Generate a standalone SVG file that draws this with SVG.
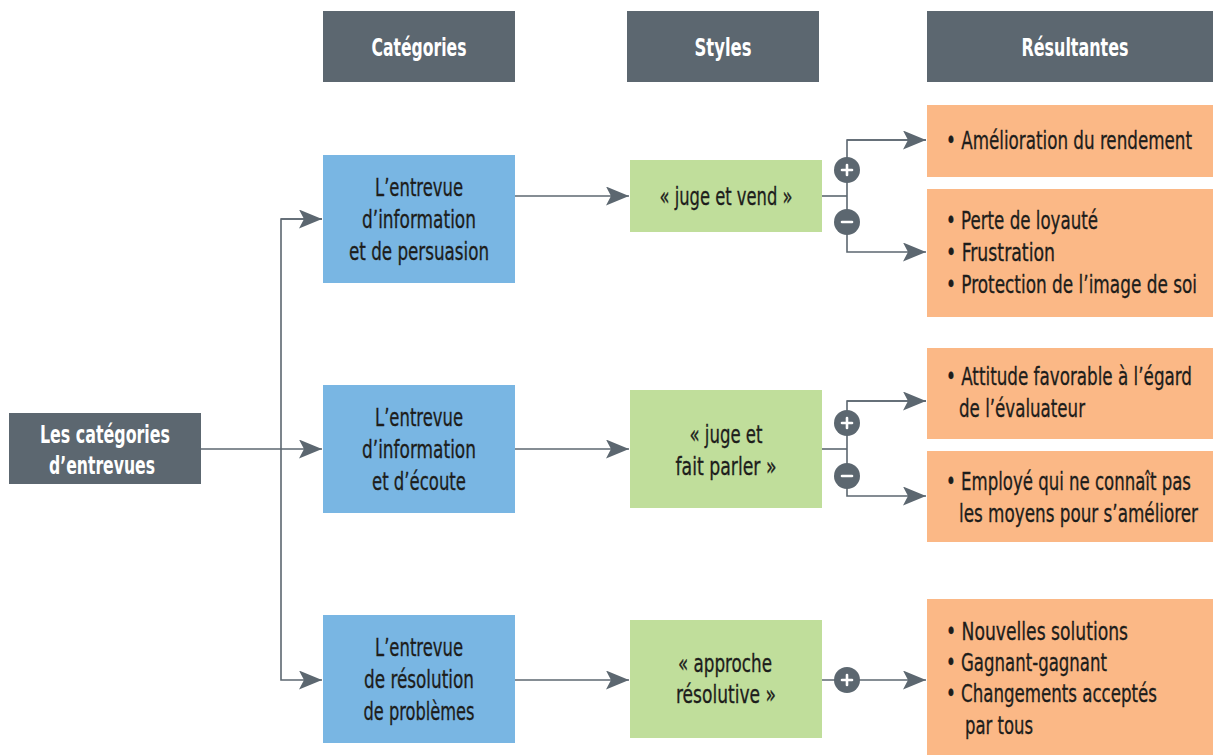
<svg xmlns="http://www.w3.org/2000/svg" width="1213" height="755" viewBox="0 0 1213 755">
<style>
.hdr{fill:#5c6770}
.blue{fill:#79b6e3}
.green{fill:#c0de9b}
.orange{fill:#fbb886}
text{font-family:"DejaVu Sans Condensed","DejaVu Sans","Liberation Sans",sans-serif;font-size:24px}
.ht{fill:#ffffff;font-weight:bold;text-anchor:middle}
.ct{fill:#1d1d1b;text-anchor:middle;stroke:#1d1d1b;stroke-width:0.3}
.lt{fill:#1d1d1b;font-size:20px;stroke:#1d1d1b;stroke-width:0.25}
.ln{fill:none;stroke:#5c6770;stroke-width:1.6}
.circ{fill:#5c6770}
.sign{stroke:#ffffff;stroke-width:2.6;stroke-linecap:round}
</style>
<defs>
<marker id="arr" markerUnits="userSpaceOnUse" markerWidth="24" markerHeight="20" refX="23" refY="9.5" orient="auto">
<path d="M0,0 L23,9.5 L0,19 L5,9.5 z" fill="#5c6770"/>
</marker>
</defs>

<g id="connectors">
<line class="ln" x1="200" y1="449" x2="322" y2="449" marker-end="url(#arr)"/>
<polyline class="ln" points="322,219 281,219 281,680 322,680" marker-end="url(#arr)"/>
<line class="ln" x1="281" y1="219" x2="322" y2="219" marker-end="url(#arr)"/>
<line class="ln" x1="515" y1="196" x2="629" y2="196" marker-end="url(#arr)"/>
<line class="ln" x1="515" y1="449" x2="629" y2="449" marker-end="url(#arr)"/>
<line class="ln" x1="515" y1="680" x2="629" y2="680" marker-end="url(#arr)"/>
<line class="ln" x1="822" y1="196" x2="847" y2="196"/>
<polyline class="ln" points="926,140 847,140 847,252 926,252" marker-end="url(#arr)"/>
<line class="ln" x1="847" y1="140" x2="926" y2="140" marker-end="url(#arr)"/>
<line class="ln" x1="822" y1="449" x2="847" y2="449"/>
<polyline class="ln" points="926,401 847,401 847,496 926,496" marker-end="url(#arr)"/>
<line class="ln" x1="847" y1="401" x2="926" y2="401" marker-end="url(#arr)"/>
<line class="ln" x1="822" y1="680" x2="926" y2="680" marker-end="url(#arr)"/>
<g id="signs">
<circle class="circ" cx="847" cy="170" r="13"/>
<line class="sign" x1="842" y1="170" x2="852" y2="170"/><line class="sign" x1="847" y1="165" x2="847" y2="175"/>
<circle class="circ" cx="847" cy="222" r="13"/>
<line class="sign" x1="842" y1="222" x2="852" y2="222"/>
<circle class="circ" cx="847" cy="423" r="13"/>
<line class="sign" x1="842" y1="423" x2="852" y2="423"/><line class="sign" x1="847" y1="418" x2="847" y2="428"/>
<circle class="circ" cx="847" cy="476" r="13"/>
<line class="sign" x1="842" y1="476" x2="852" y2="476"/>
<circle class="circ" cx="847" cy="680" r="13"/>
<line class="sign" x1="842" y1="680" x2="852" y2="680"/><line class="sign" x1="847" y1="675" x2="847" y2="685"/>
</g>
</g>

<g id="h-categories"><rect class="hdr" x="323" y="11" width="192" height="71"/><text class="ht" x="419" y="56" textLength="95" lengthAdjust="spacingAndGlyphs">Catégories</text></g>
<g id="h-styles"><rect class="hdr" x="627" y="11" width="192" height="71"/><text class="ht" x="723" y="56" textLength="57" lengthAdjust="spacingAndGlyphs">Styles</text></g>
<g id="h-resultantes"><rect class="hdr" x="927" y="11" width="286" height="71"/><text class="ht" x="1075" y="56" textLength="107" lengthAdjust="spacingAndGlyphs">Résultantes</text></g>

<g id="root"><rect class="hdr" x="9" y="413" width="192" height="71"/><text class="ht" x="105" y="443" textLength="130" lengthAdjust="spacingAndGlyphs">Les catégories</text><text class="ht" x="102" y="474" textLength="106" lengthAdjust="spacingAndGlyphs">d’entrevues</text></g>

<g id="cat1"><rect class="blue" x="323" y="155" width="192" height="128"/><text class="ct" x="419" y="196" textLength="88" lengthAdjust="spacingAndGlyphs">L’entrevue</text><text class="ct" x="419" y="228" textLength="114" lengthAdjust="spacingAndGlyphs">d’information</text><text class="ct" x="419" y="260" textLength="140" lengthAdjust="spacingAndGlyphs">et de persuasion</text></g>
<g id="cat2"><rect class="blue" x="323" y="385" width="192" height="128"/><text class="ct" x="419" y="426" textLength="88" lengthAdjust="spacingAndGlyphs">L’entrevue</text><text class="ct" x="419" y="458" textLength="114" lengthAdjust="spacingAndGlyphs">d’information</text><text class="ct" x="419" y="490" textLength="94" lengthAdjust="spacingAndGlyphs">et d’écoute</text></g>
<g id="cat3"><rect class="blue" x="323" y="615" width="192" height="128"/><text class="ct" x="419" y="656" textLength="88" lengthAdjust="spacingAndGlyphs">L’entrevue</text><text class="ct" x="419" y="688" textLength="110" lengthAdjust="spacingAndGlyphs">de résolution</text><text class="ct" x="419" y="720" textLength="111" lengthAdjust="spacingAndGlyphs">de problèmes</text></g>

<g id="style1"><rect class="green" x="630" y="160" width="192" height="72"/><text class="ct" x="726" y="205" textLength="133" lengthAdjust="spacingAndGlyphs">« juge et vend »</text></g>
<g id="style2"><rect class="green" x="630" y="390" width="192" height="118"/><text class="ct" x="726" y="443" textLength="73" lengthAdjust="spacingAndGlyphs">« juge et</text><text class="ct" x="726" y="475" textLength="101" lengthAdjust="spacingAndGlyphs">fait parler »</text></g>
<g id="style3"><rect class="green" x="630" y="620" width="192" height="118"/><text class="ct" x="725" y="672" textLength="94" lengthAdjust="spacingAndGlyphs">« approche</text><text class="ct" x="726" y="703" textLength="100" lengthAdjust="spacingAndGlyphs">résolutive »</text></g>

<g id="res1"><rect class="orange" x="927" y="105" width="286" height="72"/><g transform="scale(1,1.2)"><text class="lt" x="946" y="124.17" textLength="246" lengthAdjust="spacingAndGlyphs">• Amélioration du rendement</text></g></g>
<g id="res2"><rect class="orange" x="927" y="189" width="286" height="128"/><g transform="scale(1,1.2)"><text class="lt" x="946" y="190.83" textLength="152" lengthAdjust="spacingAndGlyphs">• Perte de loyauté</text><text class="lt" x="946" y="217.5" textLength="109" lengthAdjust="spacingAndGlyphs">• Frustration</text><text class="lt" x="946" y="244.17" textLength="251" lengthAdjust="spacingAndGlyphs">• Protection de l’image de soi</text></g></g>
<g id="res3"><rect class="orange" x="927" y="348" width="286" height="91"/><g transform="scale(1,1.2)"><text class="lt" x="946" y="320.83" textLength="246" lengthAdjust="spacingAndGlyphs">• Attitude favorable à l’égard</text><text class="lt" x="959" y="347.5" textLength="126" lengthAdjust="spacingAndGlyphs">de l’évaluateur</text></g></g>
<g id="res4"><rect class="orange" x="927" y="451" width="286" height="91"/><g transform="scale(1,1.2)"><text class="lt" x="946" y="408.33" textLength="245" lengthAdjust="spacingAndGlyphs">• Employé qui ne connaît pas</text><text class="lt" x="959" y="435" textLength="239" lengthAdjust="spacingAndGlyphs">les moyens pour s’améliorer</text></g></g>
<g id="res5"><rect class="orange" x="927" y="599" width="286" height="156"/><g transform="scale(1,1.2)"><text class="lt" x="946" y="533.33" textLength="182" lengthAdjust="spacingAndGlyphs">• Nouvelles solutions</text><text class="lt" x="946" y="559.17" textLength="161" lengthAdjust="spacingAndGlyphs">• Gagnant-gagnant</text><text class="lt" x="946" y="585" textLength="211" lengthAdjust="spacingAndGlyphs">• Changements acceptés</text><text class="lt" x="965" y="611.67" textLength="68" lengthAdjust="spacingAndGlyphs">par tous</text></g></g>
</svg>
